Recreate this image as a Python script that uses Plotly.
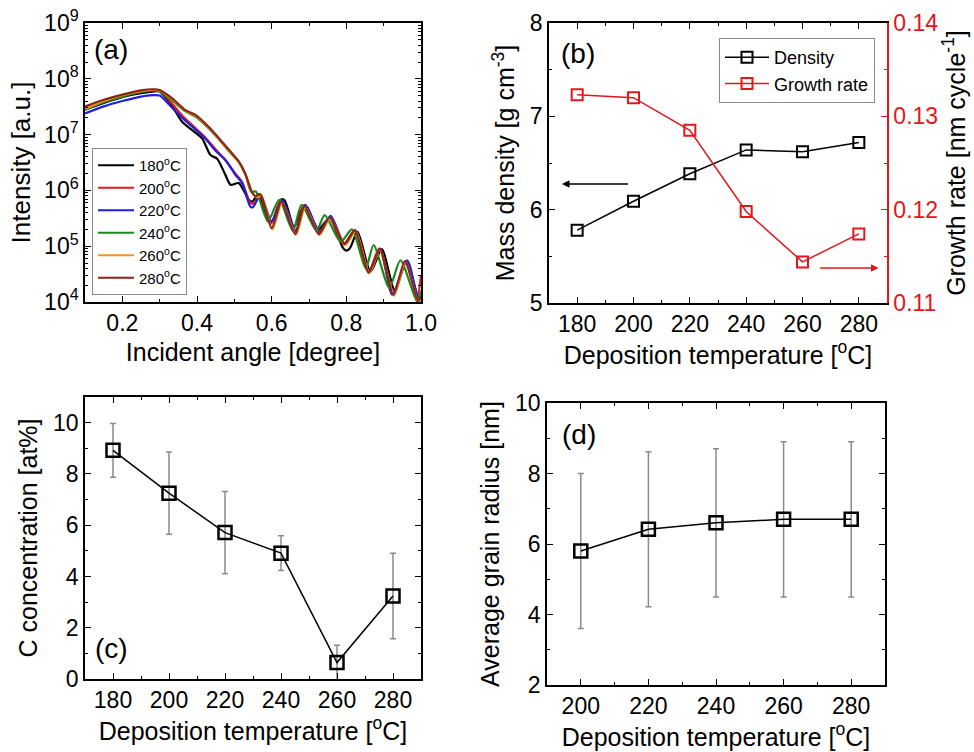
import plotly.graph_objects as go
import numpy as np

# ---------------- Panel (a): XRR curves ----------------
xrr_names = ["180<sup>o</sup>C", "200<sup>o</sup>C", "220<sup>o</sup>C",
             "240<sup>o</sup>C", "260<sup>o</sup>C", "280<sup>o</sup>C"]
xrr_colors = ["#000000", "#e3161b", "#1f1fe0", "#1a8a1a", "#f7941d", "#8b2515"]

x180 = [0.10, 0.15, 0.20, 0.25, 0.28, 0.30, 0.33, 0.36, 0.387, 0.414, 0.436, 0.454, 0.476, 0.490, 0.512,
        0.539, 0.548, 0.565, 0.59, 0.60, 0.625, 0.635, 0.66, 0.685, 0.695, 0.725, 0.755, 0.79, 0.80, 0.81,
        0.83, 0.865, 0.895, 0.93, 0.96, 0.995, 1.0]
i180 = [2.8e7, 3.7e7, 4.7e7, 5.5e7, 5.9e7, 5.9e7, 3.5e7, 1.7e7, 1.2e7, 8.5e6, 4.3e6, 3.7e6, 1.9e6, 1.26e6, 1.35e6,
        6.8e5, 6.3e5, 8.5e5, 2.8e5, 2.7e5, 6.9e5, 6.6e5, 2.2e5, 5.2e5, 5.0e5, 2.0e5, 3.2e5, 9.5e4, 8.3e4, 9.3e4,
        1.8e5, 3.5e4, 8.9e4, 1.6e4, 5.2e4, 1.1e4, 1.3e4]

x200 = [0.10, 0.15, 0.20, 0.25, 0.28, 0.30, 0.33, 0.36, 0.396, 0.422, 0.449, 0.476, 0.503, 0.521, 0.543,
        0.552, 0.568, 0.598, 0.625, 0.663, 0.687, 0.726, 0.755, 0.793, 0.822, 0.86, 0.888, 0.927, 0.96, 0.99, 1.0]
i200 = [3.0e7, 4.0e7, 5.0e7, 6.0e7, 6.3e7, 6.2e7, 3.8e7, 2.2e7, 1.3e7, 8.9e6, 5.5e6, 3.5e6, 2.0e6, 1.4e6, 6.0e5,
        5.8e5, 8.5e5, 2.5e5, 6.8e5, 1.8e5, 5.5e5, 1.75e5, 3.3e5, 1.07e5, 1.95e5, 3.5e4, 9.1e4, 1.4e4, 5.4e4, 1.26e4, 3.0e4]

x220 = [0.10, 0.15, 0.20, 0.25, 0.28, 0.30, 0.33, 0.36, 0.396, 0.422, 0.449, 0.476, 0.503, 0.521, 0.543,
        0.55, 0.57, 0.60, 0.628, 0.665, 0.69, 0.728, 0.758, 0.795, 0.825, 0.86, 0.89, 0.923, 0.963, 0.995, 1.0]
i220 = [2.4e7, 3.2e7, 4.0e7, 4.8e7, 5.1e7, 5.0e7, 3.2e7, 2.0e7, 1.23e7, 8.5e6, 5.2e6, 3.5e6, 1.9e6, 1.35e6, 5.1e5,
        5.0e5, 8.3e5, 2.8e5, 6.6e5, 1.9e5, 5.5e5, 1.8e5, 3.5e5, 1.12e5, 1.9e5, 3.3e4, 9.1e4, 1.35e4, 5.6e4, 9.5e3, 1.1e4]

x240 = [0.10, 0.15, 0.20, 0.25, 0.28, 0.30, 0.33, 0.369, 0.396, 0.431, 0.458, 0.485, 0.512, 0.530, 0.545,
        0.558, 0.59, 0.62, 0.657, 0.68, 0.72, 0.742, 0.785, 0.815, 0.852, 0.873, 0.915, 0.945, 0.99, 1.0]
i240 = [2.8e7, 3.8e7, 4.8e7, 5.8e7, 6.2e7, 6.0e7, 4.3e7, 2.6e7, 2.1e7, 1.3e7, 8.3e6, 5.1e6, 3.2e6, 1.9e6, 9.5e5,
        9.5e5, 2.8e5, 6.8e5, 1.9e5, 5.5e5, 1.9e5, 3.6e5, 1.2e5, 2.0e5, 4.0e4, 1.05e5, 1.8e4, 5.6e4, 1.0e4, 1.6e4]

x260 = [0.10, 0.15, 0.20, 0.25, 0.28, 0.30, 0.333, 0.369, 0.396, 0.431, 0.458, 0.485, 0.512, 0.530, 0.548,
        0.56, 0.573, 0.602, 0.628, 0.665, 0.69, 0.728, 0.757, 0.797, 0.825, 0.862, 0.89, 0.928, 0.958, 0.993, 1.0]
i260 = [2.9e7, 4.0e7, 5.1e7, 6.0e7, 6.3e7, 6.2e7, 4.4e7, 2.7e7, 2.2e7, 1.35e7, 8.5e6, 5.2e6, 3.2e6, 1.9e6, 8.9e5,
        7.6e5, 7.9e5, 2.0e5, 6.0e5, 1.6e5, 5.0e5, 1.6e5, 3.2e5, 1.05e5, 1.85e5, 3.3e4, 8.7e4, 1.3e4, 5.2e4, 1.0e4, 1.1e4]

x280 = [0.10, 0.15, 0.20, 0.25, 0.28, 0.30, 0.333, 0.369, 0.396, 0.431, 0.458, 0.485, 0.512, 0.530, 0.548,
        0.557, 0.57, 0.60, 0.626, 0.663, 0.688, 0.726, 0.756, 0.795, 0.823, 0.86, 0.89, 0.926, 0.957, 0.992, 1.0]
i280 = [3.2e7, 4.2e7, 5.2e7, 6.2e7, 6.5e7, 6.3e7, 4.5e7, 2.75e7, 2.25e7, 1.38e7, 8.7e6, 5.4e6, 3.3e6, 1.95e6, 9.1e5,
        7.9e5, 8.5e5, 2.1e5, 6.3e5, 1.65e5, 5.2e5, 1.65e5, 3.3e5, 1.1e5, 1.9e5, 3.4e4, 8.9e4, 1.35e4, 5.4e4, 1.05e4, 1.26e4]

xrr_x = [x180, x200, x220, x240, x260, x280]
xrr_i = [i180, i200, i220, i240, i260, i280]

# ---------------- Panel (b) ----------------
temp_b = [180, 200, 220, 240, 260, 280]
density = [5.78, 6.09, 6.385, 6.64, 6.62, 6.72]
growth_rate = [0.1323, 0.1320, 0.1285, 0.1198, 0.1144, 0.1174]

# ---------------- Panel (c) ----------------
temp_c = [180, 200, 220, 240, 260, 280]
carbon = [8.92, 7.25, 5.71, 4.91, 0.64, 3.24]
carbon_err = [1.05, 1.6, 1.6, 0.68, 0.68, 1.67]

# ---------------- Panel (d) ----------------
temp_d = [200, 220, 240, 260, 280]
grain = [5.80, 6.42, 6.60, 6.70, 6.70]
grain_err = [2.2, 2.2, 2.1, 2.2, 2.2]

FONT = "Liberation Sans, Arial, sans-serif"
W, H = 974, 752

def dx(p0, p1):
    return [p0 / W, p1 / W]

def dy(top, bottom):
    return [1 - bottom / H, 1 - top / H]

fig = go.Figure()

for k in range(6):
    fig.add_trace(go.Scatter(
        x=xrr_x[k], y=xrr_i[k], mode="lines", name=xrr_names[k],
        line=dict(color=xrr_colors[k], width=2.2, shape="spline", smoothing=0.7),
        xaxis="x", yaxis="y", legend="legend"))

fig.add_trace(go.Scatter(
    x=temp_b, y=density, mode="lines+markers", name="Density",
    line=dict(color="black", width=1.5),
    marker=dict(symbol="square-open", size=11, color="black", line=dict(width=2, color="black")),
    xaxis="x2", yaxis="y2", legend="legend2"))
fig.add_trace(go.Scatter(
    x=temp_b, y=growth_rate, mode="lines+markers", name="Growth rate",
    line=dict(color="#e3161b", width=1.5),
    marker=dict(symbol="square-open", size=11, color="#e3161b", line=dict(width=2, color="#e3161b")),
    xaxis="x2", yaxis="y3", legend="legend2"))

fig.add_trace(go.Scatter(
    x=temp_c, y=carbon, mode="lines+markers", showlegend=False,
    line=dict(color="black", width=1.5),
    marker=dict(symbol="square-open", size=13, color="black", line=dict(width=2.5, color="black")),
    error_y=dict(type="data", array=carbon_err, color="#8a8a8a", thickness=1.5, width=3),
    xaxis="x3", yaxis="y4"))

fig.add_trace(go.Scatter(
    x=temp_d, y=grain, mode="lines+markers", showlegend=False,
    line=dict(color="black", width=1.5),
    marker=dict(symbol="square-open", size=13, color="black", line=dict(width=2.5, color="black")),
    error_y=dict(type="data", array=grain_err, color="#8a8a8a", thickness=1.5, width=3),
    xaxis="x4", yaxis="y5"))

TICKF = dict(family=FONT, size=23, color="black")
TITLEF = dict(family=FONT, size=25, color="black")

def ax_common(**kw):
    d = dict(showline=True, linecolor="black", linewidth=1.5, ticks="inside", ticklen=6,
             tickwidth=1.2, tickcolor="black", tickfont=TICKF, showgrid=False, zeroline=False,
             automargin=False, mirror="ticks",
             minor=dict(ticks="inside", ticklen=3, tickwidth=1, tickcolor="black", showgrid=False))
    d.update(kw)
    return d

deg_title = "Deposition temperature [<sup>o</sup>C]"

fig.update_layout(
    width=W, height=H, autosize=False,
    margin=dict(l=0, r=0, t=0, b=0),
    paper_bgcolor="white", plot_bgcolor="white",
    font=dict(family=FONT, color="black"),
    # (a)
    xaxis=ax_common(domain=dx(85, 421), anchor="y", range=[0.1, 1.0], tick0=0.2, dtick=0.2,
                    tickformat=".1f",
                    minor=dict(ticks="inside", ticklen=3, tickwidth=1, tickcolor="black", dtick=0.1, tick0=0.1),
                    title=dict(text="Incident angle [degree]", font=TITLEF, standoff=8)),
    yaxis=ax_common(domain=dy(23, 302), anchor="x", type="log", range=[4, 9],
                    tickmode="array", tickvals=[1e4, 1e5, 1e6, 1e7, 1e8, 1e9],
                    ticktext=["10<sup>4</sup>", "10<sup>5</sup>", "10<sup>6</sup>", "10<sup>7</sup>",
                              "10<sup>8</sup>", "10<sup>9</sup>"],
                    minor=dict(ticks="inside", ticklen=3, tickwidth=1, tickcolor="black", dtick="D1"),
                    title=dict(text="Intensity [a.u.]", font=dict(family=FONT, size=26, color="black"), standoff=6)),
    # (b)
    xaxis2=ax_common(domain=dx(549, 887), anchor="y2", range=[170, 290], tick0=180, dtick=20,
                     minor=dict(ticks="inside", ticklen=3, tickwidth=1, tickcolor="black", dtick=10, tick0=170),
                     title=dict(text=deg_title, font=TITLEF, standoff=6)),
    yaxis2=ax_common(domain=dy(23, 303), anchor="x2", range=[5, 8], dtick=1, mirror=False,
                     minor=dict(ticks="inside", ticklen=3, tickwidth=1, tickcolor="black", dtick=0.5),
                     title=dict(text="Mass density [g cm<sup>-3</sup>]", font=TITLEF, standoff=8)),
    yaxis3=ax_common(overlaying="y2", anchor="x2", side="right", range=[0.11, 0.14], dtick=0.01,
                     tickformat=".2f", mirror=False, linecolor="#e3161b", tickcolor="#e3161b",
                     tickfont=dict(family=FONT, size=23, color="#e3161b"),
                     minor=dict(ticks="inside", ticklen=3, tickwidth=1, tickcolor="#e3161b", dtick=0.005),
                     title=dict(text="Growth rate [nm cycle<sup>-1</sup>]", font=TITLEF, standoff=4)),
    # (c)
    xaxis3=ax_common(domain=dx(85, 421), anchor="y4", range=[170, 290], tick0=180, dtick=20,
                     minor=dict(ticks="inside", ticklen=3, tickwidth=1, tickcolor="black", dtick=10, tick0=170),
                     title=dict(text=deg_title, font=TITLEF, standoff=6)),
    yaxis4=ax_common(domain=dy(397, 679), anchor="x3", range=[0, 11], dtick=2,
                     minor=dict(ticks="inside", ticklen=3, tickwidth=1, tickcolor="black", dtick=1),
                     title=dict(text="C concentration [at%]", font=TITLEF, standoff=8)),
    # (d)
    xaxis4=ax_common(domain=dx(547, 885), anchor="y5", range=[190, 290], tick0=200, dtick=20,
                     minor=dict(ticks="inside", ticklen=3, tickwidth=1, tickcolor="black", dtick=10, tick0=190),
                     title=dict(text=deg_title, font=TITLEF, standoff=6)),
    yaxis5=ax_common(domain=dy(403, 685), anchor="x4", range=[2, 10], dtick=2,
                     minor=dict(ticks="inside", ticklen=3, tickwidth=1, tickcolor="black", dtick=1),
                     title=dict(text="Average grain radius [nm]", font=TITLEF, standoff=8)),
    legend=dict(x=92 / W, y=1 - 148 / H, xanchor="left", yanchor="top",
                bgcolor="white", bordercolor="#888888", borderwidth=1,
                font=dict(family=FONT, size=15, color="black"),
                itemwidth=36),
    legend2=dict(x=719 / W, y=1 - 38 / H, xanchor="left", yanchor="top",
                 bgcolor="white", bordercolor="#888888", borderwidth=1,
                 font=dict(family=FONT, size=18, color="black"), itemwidth=44),
)

# panel labels
for txt, px, py in [("(a)", 111, 50), ("(b)", 578, 54), ("(c)", 111, 648), ("(d)", 579, 434)]:
    fig.add_annotation(text=txt, x=px / W, y=1 - py / H, xref="paper", yref="paper",
                       showarrow=False, font=dict(family=FONT, size=28, color="black"),
                       xanchor="center", yanchor="middle")

# arrows in (b)
fig.add_annotation(x=174.6, y=6.275, ax=198.6, ay=6.275, xref="x2", yref="y2", axref="x2", ayref="y2",
                   text="", showarrow=True, arrowhead=2, arrowsize=1, arrowwidth=1.5, arrowcolor="black")
fig.add_annotation(x=287, y=0.11375, ax=265.7, ay=0.11375, xref="x2", yref="y3", axref="x2", ayref="y3",
                   text="", showarrow=True, arrowhead=2, arrowsize=1, arrowwidth=1.5, arrowcolor="#e3161b")

fig.write_html("out.html")
